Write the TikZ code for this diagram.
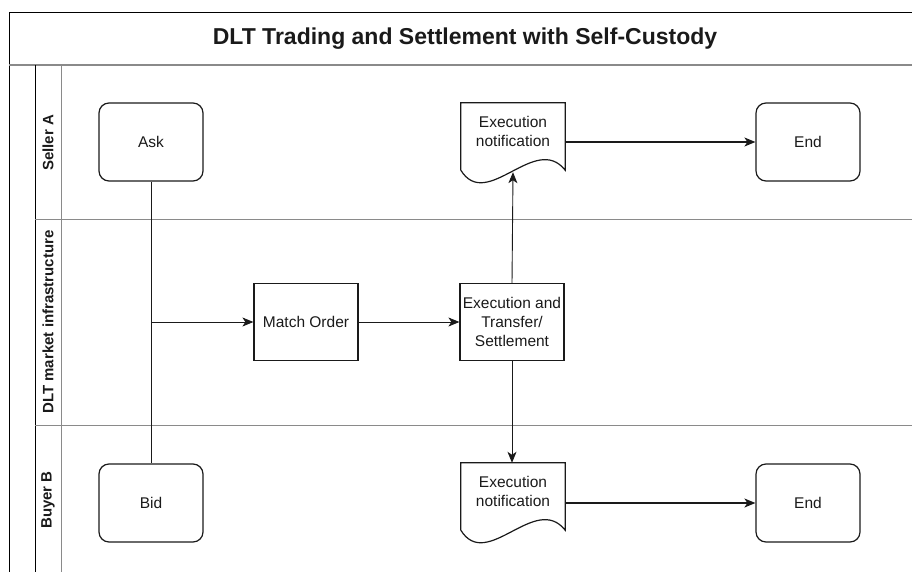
\documentclass[tikz,border=0pt]{standalone}
\usepackage{fontspec}
\setmainfont{Liberation Sans}
\definecolor{flowdark}{HTML}{1A1A1A}
\definecolor{lanerule}{HTML}{8A8A8A}
\usetikzlibrary{arrows.meta, positioning, calc}
\newcommand{\docshape}[1]{% node name -- document outline, wavy bottom
  \draw[boxline] (#1.south west) -- (#1.north west) -- (#1.north east) -- (#1.south east)
    .. controls ($(#1.south east)+(-30,-38)$) and ($(#1.south west)+(26,42)$) .. (#1.south west);
}

\begin{document}
\begin{tikzpicture}[x=1pt, y=-1pt,
    boxline/.style={flowdark, line width=1.2pt},
    stepbox/.style={boxline, draw, rectangle, minimum width=104pt, minimum height=77pt,
      inner sep=0pt, align=center, font=\fontsize{15.5}{19}\selectfont, text=flowdark},
    termbox/.style={stepbox, rounded corners=10pt, minimum height=78pt},
    docbox/.style={rectangle, minimum width=104pt, minimum height=67pt, inner sep=0pt},
    doctext/.style={align=center, font=\fontsize{15.5}{19}\selectfont, text=flowdark, yshift=5.5pt},
    lanelabel/.style={rotate=90, font=\fontsize{15}{18}\bfseries\selectfont, text=flowdark},
    flow/.style={flowdark, line width=0.9pt, -{Stealth[length=11pt, width=9pt, inset=3pt]}},
    flowbold/.style={flow, line width=1.6pt}]
  \useasboundingbox (0,0) rectangle (912,572);

  % pool frame, title and lanes
  \draw[black, line width=1pt] (9,572) -- (9,13) -- (912,13);
  \draw[lanerule, line width=1.6pt] (9,65) -- (912,65);
  \draw[black, line width=1pt] (35,65) -- (35,572);
  \draw[lanerule, line width=1pt] (61,65) -- (61,572);
  \draw[lanerule, line width=1pt] (35,219) -- (912,219);
  \draw[lanerule, line width=1pt] (35,425) -- (912,425);
  \node[font=\fontsize{23}{26}\bfseries\selectfont, text=flowdark] (title) at (465,39)
    {DLT Trading and Settlement with Self-Custody};
  \node[lanelabel] (laneA) at (48,143) {Seller A};
  \node[lanelabel] (laneM) at (48,322) {DLT market infrastructure};
  \node[lanelabel] (laneB) at (48,500) {Buyer B};

  % Seller A
  \node[termbox] (ask) at (151,142) {Ask};
  \node[docbox, label={[doctext]center:{Execution\\notification}}] (docA) at (513,136.5) {};
  \docshape{docA}
  \node[termbox] (endA) at (808,142) {End};

  % DLT market infrastructure
  \node[stepbox] (match) at (306,322) {Match Order};
  \node[stepbox] (exec) at (512,322) {Execution and\\Transfer/\\Settlement};

  % Buyer B
  \node[termbox] (bid) at (151,503) {Bid};
  \node[docbox, label={[doctext]center:{Execution\\notification}}] (docB) at (513,496.5) {};
  \docshape{docB}
  \node[termbox] (endB) at (808,503) {End};

  % connectors
  \draw[flowdark, line width=0.9pt] (ask.south) -- (bid.north);
  \draw[flow] (ask.south |- match.west) -- (match.west);
  \draw[flow] (match.east) -- (exec.west);
  \draw[flow] (exec.north) -- ($(docA.south)+(0,2)$);
  \draw[flow] (exec.south) -- (exec.south |- docB.north);
  \draw[flowbold] (docA.east |- endA.west) -- (endA.west);
  \draw[flowbold] (docB.east |- endB.west) -- (endB.west);
\end{tikzpicture}
\end{document}
